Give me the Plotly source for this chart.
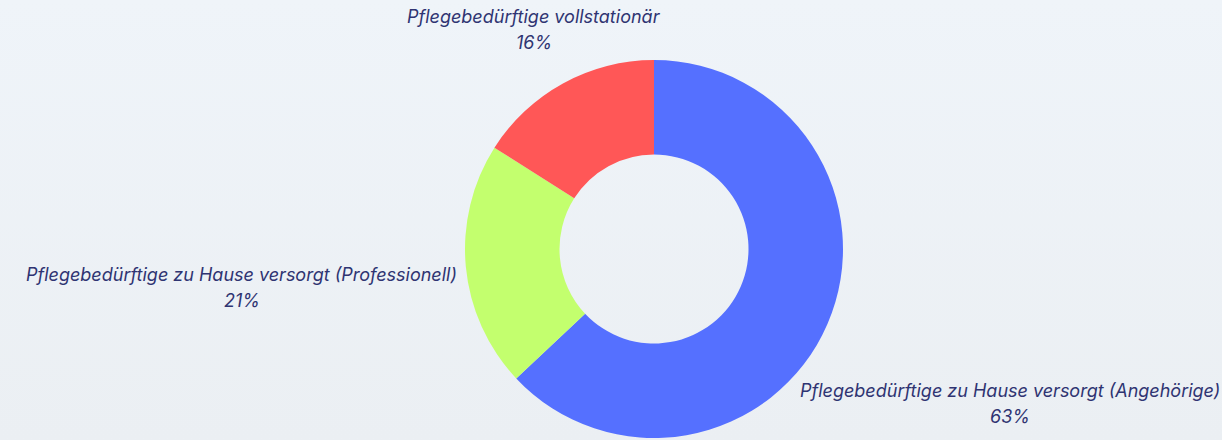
import math
import plotly.graph_objects as go

labels = [
    "Pflegebedürftige zu Hause versorgt (Angehörige)",
    "Pflegebedürftige zu Hause versorgt (Professionell)",
    "Pflegebedürftige vollstationär",
]
values = [63, 21, 16]
colors = ["#5570FF", "#C3FF6E", "#FF5757"]

# layout constants (pixels)
W, H = 1222, 440
M = dict(l=86, r=0, t=60, b=2)
label_dist = [388, 414, 250]   # distance of each label block from the pie centre
line_gap = 13                  # half the spacing between label line and percent line
TEXT_COLOR = "#2F3472"
FONT = "Inter"

fig = go.Figure(
    go.Pie(
        labels=labels,
        values=values,
        hole=0.5,
        sort=False,
        direction="clockwise",
        rotation=0,
        automargin=False,
        marker=dict(colors=colors, line=dict(width=0)),
        textinfo="none",
        showlegend=False,
        hoverinfo="label+percent",
    )
)

pw = W - M["l"] - M["r"]
ph = H - M["t"] - M["b"]
total = sum(values)
cum = 0.0
annotations = []
for lab, v, d in zip(labels, values, label_dist):
    mid = (cum + v / 2) / total * 2 * math.pi
    cum += v
    # offsets from the pie centre (domain centre) in paper units
    x = 0.5 + d * math.sin(mid) / pw
    y = 0.5 + d * math.cos(mid) / ph
    pct = f"{round(v / total * 100)}%"
    for txt, shift in ((lab, line_gap), (pct, -line_gap)):
        annotations.append(
            dict(
                x=x, y=y, xref="paper", yref="paper",
                text=f"<i>{txt}</i>",
                showarrow=False,
                xanchor="center", yanchor="middle",
                yshift=shift,
                font=dict(family=FONT, size=18, color=TEXT_COLOR),
            )
        )

fig.update_layout(
    width=W,
    height=H,
    margin=M,
    paper_bgcolor="rgba(0,0,0,0)",
    plot_bgcolor="rgba(0,0,0,0)",
    font=dict(family=FONT, color=TEXT_COLOR),
    annotations=annotations,
)

post = """
document.body.style.margin = '0';
document.body.style.background = 'linear-gradient(to bottom, #EFF4F9, #EBEFF3)';
var d = document.querySelector('.plotly-graph-div');
d.style.background = 'linear-gradient(to bottom, #EFF4F9, #EBEFF3)';
"""

fig.write_html("out.html", post_script=post, config={"displayModeBar": False})
